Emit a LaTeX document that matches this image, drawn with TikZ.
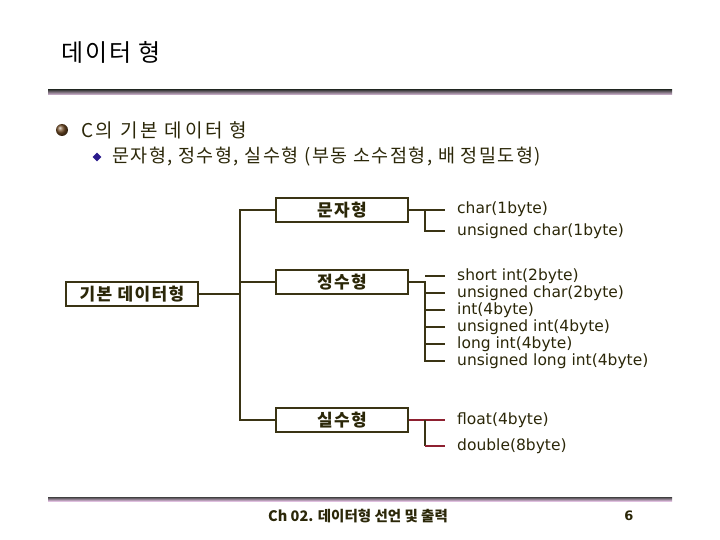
\documentclass[tikz,border=0pt]{standalone}
\usepackage{fontspec}
\setmainfont{DejaVu Sans}
\newfontfamily\kr{Noto Sans CJK KR}
\newfontfamily\krsp[LetterSpace=8.0]{Noto Sans CJK KR}
\newfontfamily\krwide[LetterSpace=14.0]{Noto Sans CJK KR}
\usetikzlibrary{shapes.geometric}

\definecolor{ink}{HTML}{2B2708}
\definecolor{wirecol}{HTML}{3A3414}
\definecolor{redwire}{HTML}{8E2030}
\definecolor{dotblue}{HTML}{2A1A8C}

\tikzset{
  typebox/.style={draw=wirecol, line width=1.2pt, minimum width=132pt, minimum height=24pt,
    inner sep=0pt, font=\krsp\bfseries\fontsize{17}{17}\selectfont, text=ink},
  leaf/.style={anchor=west, inner sep=0pt, font=\fontsize{15.5}{15.5}\selectfont, text=ink},
  wire/.style={draw=wirecol, line width=1.2pt},
  redline/.style={draw=redwire, line width=1.2pt},
  rulebar/.style={top color=black!75, bottom color=violet!25},
}

\begin{document}
\begin{tikzpicture}[x=1pt,y=-1pt]
\useasboundingbox (0,0) rectangle (720,540);

% header
\node[anchor=west, inner sep=0pt, font=\krsp\fontsize{24}{24}\selectfont, text=black] (title) at (61,52) {데이터 형};
\shade[rulebar] (48,90) rectangle (672,95);

\shade[ball color=brown!60!black] (62,130) circle (6);
\node[anchor=west, inner sep=0pt, font=\krwide\fontsize{19}{19}\selectfont, text=ink] (head) at (81,130) {C의 기본 데이터 형};
\node[diamond, fill=dotblue, inner sep=0pt, minimum size=9pt] (dot) at (97,157) {};
\node[anchor=west, inner sep=0pt, font=\krsp\fontsize{18.5}{18.5}\selectfont, text=ink] (sub) at (112,157) {문자형, 정수형, 실수형 (부동 소수점형, 배 정밀도형)};

% tree
\node[typebox] (root) at (132,294) {기본 데이터형};
\node[typebox] (cbox) at (342,210) {문자형};
\node[typebox] (ibox) at (342,282) {정수형};
\node[typebox] (fbox) at (342,420) {실수형};

\coordinate (trunk) at (240,0);
\coordinate (rail) at (425,0);

\draw[wire] (root.east) -- (trunk |- root.east);
\draw[wire] (cbox.west) -- (trunk |- cbox.west) -- (trunk |- fbox.west) -- (fbox.west);
\draw[wire] (trunk |- ibox.west) -- (ibox.west);

\node[leaf] (c1) at (457,209) {char(1byte)};
\node[leaf] (c2) at (457,231) {unsigned char(1byte)};

\node[leaf] (i1) at (457,276) {short int(2byte)};
\node[leaf] (i2) at (457,293) {unsigned char(2byte)};
\node[leaf] (i3) at (457,310) {int(4byte)};
\node[leaf] (i4) at (457,327) {unsigned int(4byte)};
\node[leaf] (i5) at (457,344) {long int(4byte)};
\node[leaf] (i6) at (457,361) {unsigned long int(4byte)};

\node[leaf] (f1) at (457,420) {float(4byte)};
\node[leaf] (f2) at (457,446) {double(8byte)};

\draw[wire] (cbox.east) -- ([xshift=-12pt]c1.west |- cbox.east);
\draw[wire] (rail |- cbox.east) |- ([xshift=-12pt]c2.west);

\draw[wire] (ibox.east) -- (rail |- ibox.east) |- ([xshift=-12pt]i6.west);
\foreach \k in {1,...,5}
  \draw[wire] (rail |- i\k.west) -- ([xshift=-12pt]i\k.west);

\draw[redline] (fbox.east) -- ([xshift=-12pt]f1.west);
\draw[wire] (rail |- f1.west) -- (rail |- f2.west);
\draw[redline] (rail |- f2.west) -- ([xshift=-12pt]f2.west);

% footer
\shade[rulebar] (48,497) rectangle (672,501);
\node[inner sep=0pt, font=\kr\bfseries\fontsize{14.5}{14.5}\selectfont, text=ink] (foot) at (358,516) {Ch 02. 데이터형 선언 및 출력};
\node[inner sep=0pt, font=\bfseries\fontsize{13}{13}\selectfont, text=ink] (page) at (629,516) {6};
\end{tikzpicture}
\end{document}
